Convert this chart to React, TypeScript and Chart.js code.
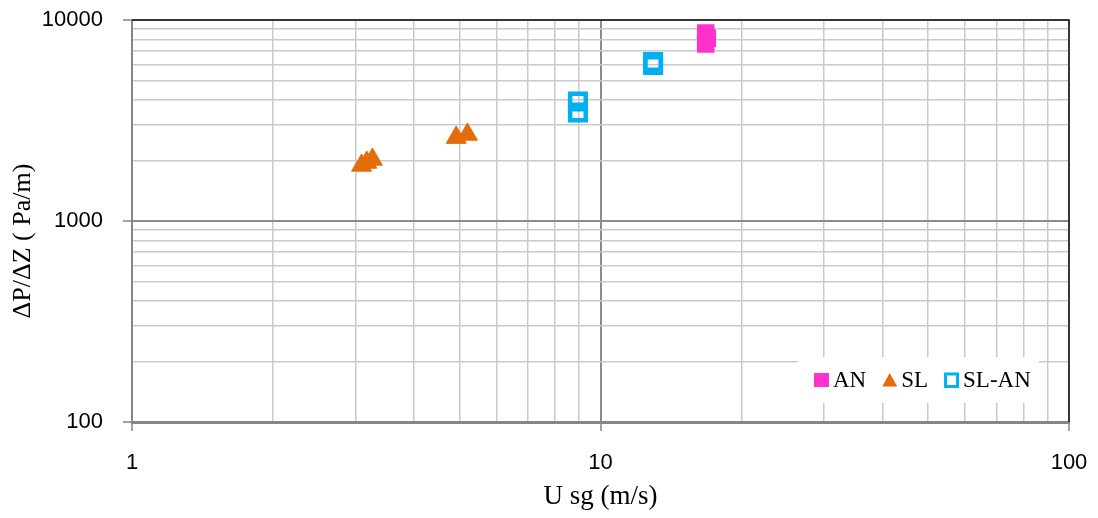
import React, { useEffect, useRef } from 'react';
import { Chart, registerables } from 'chart.js';

Chart.register(...registerables);

// ---- data ----
const seriesNames = ['AN', 'SL', 'SL-AN'];
const anX = [16.77, 16.9, 16.77];
const anY = [8615, 8120, 7600];
const slX = [3.09, 3.17, 3.26, 4.92, 5.2];
const slY = [1890, 1955, 2025, 2600, 2695];
const slanX = [8.95, 8.95, 12.95, 12.95];
const slanY = [3930, 3465, 6180, 5970];
const xTickLabels = [1, 10, 100];
const yTickLabels = [100, 1000, 10000];
const xTitle = 'U sg (m/s)';
const yTitle = 'ΔP/ΔZ ( Pa/m)';

const toPoints = (xs: number[], ys: number[]) => xs.map((x, i) => ({ x, y: ys[i] }));

const isPow10 = (v: number) => {
  const l = Math.log10(v);
  return Math.abs(l - Math.round(l)) < 1e-9;
};
const isWholeMantissa = (v: number) => {
  const e = Math.floor(Math.log10(v) + 1e-9);
  const m = v / Math.pow(10, e);
  return Math.abs(m - Math.round(m)) < 1e-6;
};
const labelFor = (list: number[]) => (v: any) => {
  const hit = list.find((t) => Math.abs(t - Number(v)) < 1e-6 * t);
  return hit !== undefined ? String(hit) : '';
};

const gridCfg = {
  color: (c: any) => (c.tick && isPow10(c.tick.value) ? '#8c8c8c' : '#cacaca'),
  lineWidth: (c: any) => (c.tick && isPow10(c.tick.value) ? 2 : 1.5),
  tickColor: (c: any) => (c.tick && isPow10(c.tick.value) ? '#868686' : 'rgba(0,0,0,0)'),
  tickLength: 9,
  tickWidth: 1.5,
  drawTicks: true,
};

const framePlugin = {
  id: 'frame',
  beforeDatasetsDraw(chart: any) {
    const { ctx, chartArea: a } = chart;
    ctx.save();
    ctx.strokeStyle = '#1a1a1a';
    ctx.lineWidth = 1.5;
    ctx.beginPath();
    ctx.moveTo(a.left, a.top);
    ctx.lineTo(a.right, a.top);
    ctx.lineTo(a.right, a.bottom);
    ctx.stroke();
    // y-axis title, placed as in the reference (slightly below the axis centre)
    ctx.translate(23, (a.top + a.bottom) / 2 + 20);
    ctx.rotate(-Math.PI / 2);
    ctx.fillStyle = '#000';
    ctx.font = '26px "Liberation Serif", "Times New Roman", serif';
    ctx.textAlign = 'center';
    ctx.textBaseline = 'middle';
    ctx.fillText(yTitle, 0, 0);
    ctx.restore();
  },
};

const legendPlugin = {
  id: 'boxLegend',
  afterDatasetsDraw(chart: any) {
    const { ctx, chartArea: a } = chart;
    const left = a.left + 666;
    const top = a.bottom - 65;
    const h = 46;
    ctx.save();
    ctx.font = '23px "Liberation Serif", "Times New Roman", serif';
    const items = chart.data.datasets.map((ds: any) => ({ ds, w: ctx.measureText(ds.label).width }));
    const mk = 15, gapText = 4, gapItem = 16, padL = 16, padR = 8;
    let total = padL + padR;
    items.forEach((it: any, i: number) => {
      total += mk + gapText + it.w + (i ? gapItem : 0);
    });
    ctx.fillStyle = '#ffffff';
    ctx.fillRect(left, top, total, h);
    let x = left + padL;
    const cy = top + h / 2;
    items.forEach((it: any) => {
      const ds = it.ds;
      if (ds.pointStyle === 'triangle') {
        ctx.fillStyle = ds.backgroundColor;
        ctx.beginPath();
        ctx.moveTo(x + mk / 2, cy - 7);
        ctx.lineTo(x + mk, cy + 6.5);
        ctx.lineTo(x, cy + 6.5);
        ctx.closePath();
        ctx.fill();
      } else if (ds.backgroundColor === 'rgba(0,0,0,0)') {
        ctx.strokeStyle = ds.borderColor;
        ctx.lineWidth = 3;
        ctx.strokeRect(x + 1.5, cy - 6, mk - 3, 12.5);
      } else {
        ctx.fillStyle = ds.backgroundColor;
        ctx.fillRect(x, cy - 7, mk, 14);
      }
      x += mk + gapText;
      ctx.fillStyle = '#000';
      ctx.textBaseline = 'middle';
      ctx.textAlign = 'left';
      ctx.fillText(ds.label, x, cy + 1);
      x += it.w + gapItem;
    });
    ctx.restore();
  },
};

export default function App() {
  const ref = useRef<HTMLCanvasElement>(null);

  useEffect(() => {
    if (!ref.current) return;
    const chart = new Chart(ref.current, {
      type: 'scatter',
      data: {
        datasets: [
          {
            label: seriesNames[0],
            data: toPoints(anX, anY),
            pointStyle: 'rect',
            pointRadius: 11,
            backgroundColor: '#ff33cc',
            borderColor: '#ff33cc',
            borderWidth: 2,
          },
          {
            label: seriesNames[1],
            data: toPoints(slX, slY),
            pointStyle: 'triangle',
            pointRadius: 11.5,
            backgroundColor: '#e46c0a',
            borderColor: '#e46c0a',
            borderWidth: 1,
          },
          {
            label: seriesNames[2],
            data: toPoints(slanX, slanY),
            pointStyle: 'rect',
            pointRadius: 11,
            backgroundColor: 'rgba(0,0,0,0)',
            borderColor: '#00b0f0',
            borderWidth: 4.5,
          },
        ],
      } as any,
      options: {
        animation: false,
        responsive: false,
        devicePixelRatio: 1,
        events: [],
        layout: { padding: { left: 0, right: 29, top: 20, bottom: 0 } },
        plugins: {
          legend: { display: false },
          tooltip: { enabled: false },
        },
        scales: {
          x: {
            type: 'logarithmic',
            position: 'bottom',
            min: 1,
            max: 100,
            afterBuildTicks: (s: any) => {
              s.ticks = s.ticks.filter((t: any) => isWholeMantissa(t.value));
            },
            afterFit: (s: any) => {
              s.height = 96;
              s.paddingLeft = 0;
              s.paddingRight = 0;
            },
            ticks: {
              autoSkip: false,
              maxRotation: 0,
              minRotation: 0,
              padding: 19,
              color: '#000',
              font: { family: '"Liberation Sans", Arial, sans-serif', size: 22 },
              callback: labelFor(xTickLabels),
            },
            grid: gridCfg as any,
            border: { color: '#868686', width: 3 },
            title: {
              display: true,
              text: xTitle,
              color: '#000',
              font: { family: '"Liberation Serif", "Times New Roman", serif', size: 27 },
              padding: { top: 0, bottom: 5 },
            },
          },
          y: {
            type: 'logarithmic',
            position: 'left',
            min: 100,
            max: 10000,
            afterBuildTicks: (s: any) => {
              s.ticks = s.ticks.filter((t: any) => isWholeMantissa(t.value));
            },
            afterFit: (s: any) => {
              s.width = 132;
              s.paddingTop = 0;
              s.paddingBottom = 0;
            },
            ticks: {
              autoSkip: false,
              padding: 20,
              color: '#000',
              font: { family: '"Liberation Sans", Arial, sans-serif', size: 22 },
              callback: labelFor(yTickLabels),
            },
            grid: gridCfg as any,
            border: { color: '#868686', width: 2 },
            title: { display: false, text: yTitle },
          },
        },
      } as any,
      plugins: [framePlugin, legendPlugin],
    });
    return () => chart.destroy();
  }, []);

  return (
    <canvas
      ref={ref}
      width={1098}
      height={518}
      style={{ position: 'absolute', left: 0, top: 0, display: 'block' }}
    />
  );
}
